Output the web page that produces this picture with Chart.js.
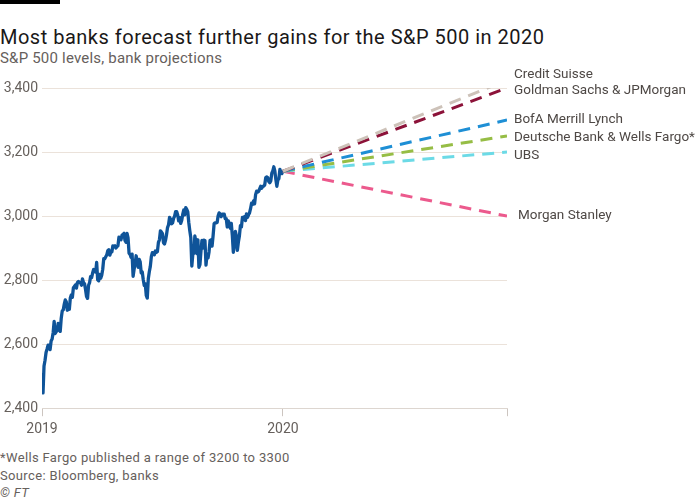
<!DOCTYPE html>
<html>
<head>
<meta charset="utf-8">
<script src="https://cdn.jsdelivr.net/npm/chart.js@4"></script>
<style>
  body { margin: 0; background: #fff; font-family: Roboto, sans-serif; width: 700px; height: 500px; position: relative; overflow: hidden; }
  .bar { position: absolute; left: 0; top: 0; width: 60px; height: 4px; background: #000; }
  .title { position: absolute; left: 0; top: 25px; font-size: 20px; letter-spacing: 0.5px; color: #1a1818; white-space: nowrap; }
  .sub { position: absolute; left: 0; top: 49px; font-size: 15px; letter-spacing: 0.2px; color: #66605c; white-space: nowrap; }
  .foot { position: absolute; left: 0; top: 449px; font-size: 13px; letter-spacing: 0.35px; color: #66605c; line-height: 17.5px; }
  #wrap { position: absolute; left: 0; top: 60px; width: 700px; height: 383px; }
</style>
</head>
<body>
<div class="bar"></div>
<div class="title">Most banks forecast further gains for the S&amp;P 500 in 2020</div>
<div class="sub">S&amp;P 500 levels, bank projections</div>
<div id="wrap"><canvas id="chart"></canvas></div>
<div class="foot">*Wells Fargo published a range of 3200 to 3300<br>Source: Bloomberg, banks<br><i>© FT</i></div>
<script>
// S&P 500 daily closes, 2019 (through mid-December)
const history = [
  2510, 2448, 2532, 2550, 2574, 2585, 2597, 2596, 2583, 2610, 2616, 2636, 2671, 2633, 2639, 2643, 2665, 2644, 2640, 2681, 2704,
  2707, 2725, 2738, 2732, 2706, 2708, 2709, 2745, 2754, 2746, 2776, 2780, 2785, 2775, 2793, 2796, 2793, 2792, 2784,
  2804, 2792, 2789, 2771, 2749, 2743, 2784, 2792, 2811, 2808, 2822, 2833, 2832, 2825, 2855, 2801, 2798, 2818, 2806, 2815, 2834,
  2867, 2867, 2873, 2879, 2892, 2895, 2878, 2888, 2888, 2907, 2905, 2907, 2900, 2905, 2907, 2934, 2927, 2926, 2940, 2943, 2946,
  2924, 2918, 2946, 2932, 2884, 2880, 2871, 2881, 2812, 2834, 2851, 2876, 2860, 2840, 2865, 2857, 2823, 2826, 2802, 2783, 2789, 2752,
  2744, 2804, 2826, 2843, 2873, 2886, 2885, 2879, 2891, 2887, 2889, 2918, 2926, 2954, 2950, 2945, 2917, 2913, 2924, 2942,
  2964, 2973, 2996, 2990, 2976, 2979, 2993, 3000, 3014, 3014, 3004, 2985, 2995, 2977, 2986, 3005, 3019, 3004, 3026, 3021, 3013, 2980,
  2954, 2932, 2844, 2881, 2884, 2938, 2919, 2883, 2926, 2840, 2848, 2889, 2924, 2900, 2925, 2923, 2847, 2878, 2869, 2888, 2924, 2926,
  2906, 2938, 2976, 2979, 2979, 2980, 3001, 3010, 3007, 2998, 3006, 3006, 3006, 2992, 2992, 2966, 2985, 2977, 2962, 2977,
  2940, 2887, 2910, 2952, 2938, 2893, 2919, 2938, 2970, 2966, 2996, 2989, 2998, 2986, 3007, 2996, 3004, 3010, 3023, 3040, 3036, 3047, 3038,
  3067, 3078, 3075, 3077, 3085, 3093, 3087, 3092, 3094, 3097, 3120, 3122, 3120, 3108, 3104, 3110, 3134, 3141, 3154, 3141,
  3114, 3093, 3113, 3117, 3146, 3136, 3133, 3142
];

const banks = ["Credit Suisse", "Goldman Sachs & JPMorgan", "BofA Merrill Lynch", "Deutsche Bank & Wells Fargo*", "UBS", "Morgan Stanley"];
const targets = [3425, 3400, 3300, 3250, 3200, 3000];
const projStart = 3140;
const bankColors = ["#cdc2b9", "#8c1239", "#1e8fd5", "#96bd45", "#6cdae6", "#ec5a8d"];

const xStart = 2019, xNow = 2020, xEnd = 2020.93;
const xTicks = [2019, 2020, 2020.93];
const xTickLabels = ["2019", "2020", ""];
const yTicks = [2400, 2600, 2800, 3000, 3200, 3400];

// label nudges (px) so stacked labels don't collide
const labelDy = [-5, 3, 0, 2, 4, 0];
const labelDx = [7, 7, 7, 7, 7, 11];

const histPts = history.map((v, i) => ({ x: xStart + i * (xNow - xStart) / (history.length - 1), y: v }));

const datasets = banks.map((b, i) => ({
  label: b,
  data: [{ x: xNow, y: projStart }, { x: xEnd, y: targets[i] }],
  borderColor: bankColors[i],
  borderWidth: 3,
  borderDash: [12, 8],
  pointRadius: 0
}));
datasets.push({
  label: "S&P 500",
  data: histPts,
  borderColor: "#0f5499",
  borderWidth: 3.3,
  pointRadius: 0,
  borderJoinStyle: "round",
  tension: 0
});

const endLabels = {
  id: "endLabels",
  afterDraw(c) {
    const ctx = c.ctx, y = c.scales.y, a = c.chartArea;
    ctx.save();
    ctx.font = "13.5px Roboto, sans-serif";
    ctx.fillStyle = "#4e4845";
    ctx.textBaseline = "middle";
    banks.forEach((b, i) => {
      ctx.fillText(b, a.right + labelDx[i], y.getPixelForValue(targets[i]) + labelDy[i]);
    });
    ctx.restore();
  }
};

Chart.defaults.font.family = "Roboto, sans-serif";
new Chart(document.getElementById("chart"), {
  type: "line",
  data: { datasets },
  options: {
    animation: false,
    responsive: true,
    maintainAspectRatio: false,
    layout: { padding: { top: 28, right: 193, left: 0, bottom: 0 } },
    plugins: { legend: { display: false }, tooltip: { enabled: false } },
    scales: {
      x: {
        type: "linear",
        min: xStart, max: xEnd,
        afterBuildTicks: s => { s.ticks = xTicks.map(v => ({ value: v })); },
        ticks: {
          color: "#66605c", font: { size: 14 }, padding: 5, maxRotation: 0,
          callback: (v, i) => xTickLabels[i]
        },
        grid: { drawOnChartArea: false, drawTicks: true, tickLength: 8, color: "#ccc5c0" },
        border: { display: true, color: "#ddd6d0" }
      },
      y: {
        min: 2400, max: 3400,
        afterBuildTicks: s => { s.ticks = yTicks.map(v => ({ value: v })); },
        afterFit: s => { s.width = 42; },
        ticks: {
          color: "#66605c", font: { size: 14 }, padding: 4,
          callback: v => v.toLocaleString("en-US")
        },
        grid: { color: "#ebe2da", drawTicks: false, lineWidth: 1 },
        border: { display: false }
      }
    }
  },
  plugins: [endLabels]
});
</script>
</body>
</html>
